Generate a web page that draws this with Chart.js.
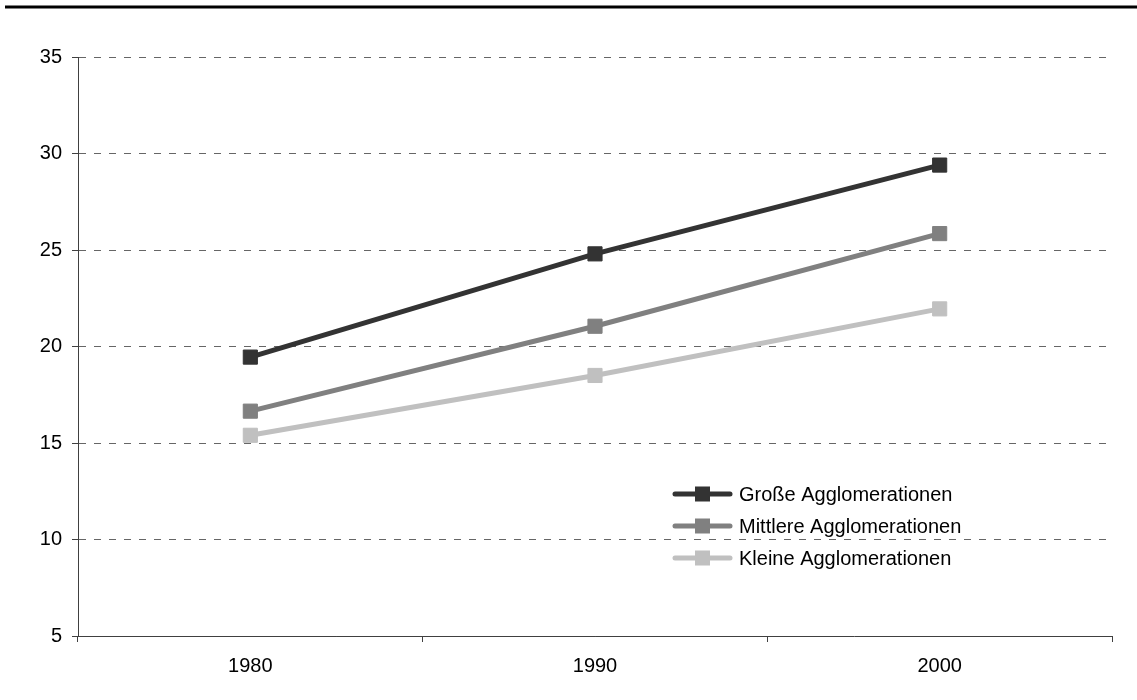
<!DOCTYPE html>
<html>
<head>
<meta charset="utf-8">
<script src="https://cdn.jsdelivr.net/npm/chart.js@4"></script>
<style>
    html, body { margin: 0; padding: 0; background: #fff; }
    #wrap { width: 1137px; height: 700px; position: relative; }
</style>
</head>
<body>
<div id="wrap"><canvas id="myChart" width="1137" height="700"></canvas></div>
<script>
// Data
const years = ['1980', '1990', '2000'];
const grosse = [19.45, 24.8, 29.4];
const mittlere = [16.65, 21.05, 25.85];
const kleine = [15.4, 18.5, 21.95];
const seriesNames = ['Große Agglomerationen', 'Mittlere Agglomerationen', 'Kleine Agglomerationen'];
const seriesColors = ['#333333', '#808080', '#c0c0c0'];

const FONT = "'Liberation Sans', Arial, sans-serif";

// Rule across the top of the page
const topRule = {
    id: 'topRule',
    beforeDraw(chart) {
        const ctx = chart.ctx;
        ctx.save();
        ctx.strokeStyle = '#000';
        ctx.lineWidth = 3;
        ctx.beginPath();
        ctx.moveTo(5, 7);
        ctx.lineTo(chart.width, 7);
        ctx.stroke();
        ctx.restore();
    }
};

// Legend drawn inside the plot area, lower right
const innerLegend = {
    id: 'innerLegend',
    afterDatasetsDraw(chart) {
        const ctx = chart.ctx;
        ctx.save();
        chart.data.datasets.forEach((ds, i) => {
            const y = 494 + i * 32;
            ctx.strokeStyle = ds.borderColor;
            ctx.lineWidth = 5;
            ctx.lineCap = 'round';
            ctx.beginPath();
            ctx.moveTo(675, y);
            ctx.lineTo(730, y);
            ctx.stroke();
            ctx.fillStyle = ds.borderColor;
            ctx.fillRect(695, y - 7.5, 15, 15);
            ctx.fillStyle = '#000';
            ctx.font = '20px ' + FONT;
            ctx.textBaseline = 'middle';
            ctx.textAlign = 'left';
            ctx.fillText(ds.label, 739, y + 1);
        });
        ctx.restore();
    }
};

function makeDataset(name, values, color) {
    return {
        label: name,
        data: values,
        borderColor: color,
        backgroundColor: color,
        borderWidth: 5,
        pointStyle: 'rect',
        pointRadius: 10,
        pointBorderWidth: 1,
        pointHoverRadius: 10,
        fill: false,
        tension: 0
    };
}

const ctx = document.getElementById('myChart').getContext('2d');
new Chart(ctx, {
    type: 'line',
    data: {
        labels: years,
        datasets: [
            makeDataset(seriesNames[0], grosse, seriesColors[0]),
            makeDataset(seriesNames[1], mittlere, seriesColors[1]),
            makeDataset(seriesNames[2], kleine, seriesColors[2])
        ]
    },
    options: {
        responsive: false,
        animation: false,
        layout: { padding: { top: 57, right: 25, bottom: 0, left: 0 } },
        plugins: {
            legend: { display: false },
            tooltip: { enabled: false }
        },
        scales: {
            x: {
                offset: true,
                grid: {
                    offset: true,
                    drawOnChartArea: false,
                    tickLength: 6,
                    tickColor: '#404040'
                },
                border: { color: '#404040', width: 1 },
                ticks: {
                    color: '#000',
                    padding: 12,
                    font: { family: FONT, size: 20 }
                },
                afterFit(scale) { scale.height = 64; }
            },
            y: {
                min: 5,
                max: 35,
                ticks: {
                    stepSize: 5,
                    color: '#000',
                    padding: 10,
                    font: { family: FONT, size: 20 }
                },
                grid: {
                    color: '#666',
                    lineWidth: 1,
                    tickLength: 6,
                    tickColor: '#404040',
                    tickBorderDash: []
                },
                border: { color: '#404040', width: 1, dash: [7, 8] },
                afterFit(scale) { scale.width = 78; }
            }
        }
    },
    plugins: [topRule, innerLegend]
});
</script>
</body>
</html>
